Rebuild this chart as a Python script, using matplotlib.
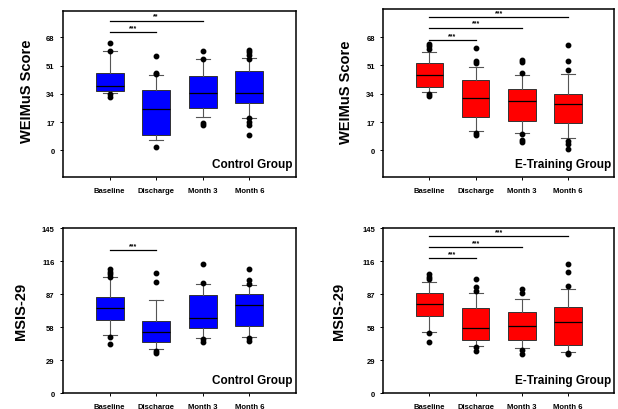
import matplotlib
matplotlib.use("Agg")
import matplotlib.pyplot as plt

plt.rcParams["font.family"] = ["Liberation Sans", "DejaVu Sans"]

labels = ["Baseline", "Discharge", "Month 3", "Month 6"]

# WEIMuS, control group
wc_med = [39, 24.7, 34.8, 34.8]
wc_q1 = [36, 9, 25.5, 28.4]
wc_q3 = [46.5, 36.4, 45, 47.7]
wc_lo = [34.4, 6, 20, 19.3]
wc_hi = [60, 45.5, 55.3, 55.7]
wc_fl = [[64.4, 60, 33.8, 32.4],
         [56.7, 46.7, 46, 2],
         [59.6, 55.3, 16.7, 15.3],
         [60.6, 59, 57.5, 55.3, 19.3, 16.9, 15.1, 9.5]]

# WEIMuS, e-training group
we_med = [45.3, 31.4, 29.8, 27.8]
we_q1 = [38, 20.3, 17.9, 16.3]
we_q3 = [52.5, 42.3, 37, 33.8]
we_lo = [35, 11.9, 10.7, 7.2]
we_hi = [58.8, 50.1, 45.3, 46]
we_fl = [[63.8, 62.4, 60.8, 34, 32.8],
         [61.2, 53.9, 52.5, 10.3, 8.9],
         [54.5, 53.3, 46.7, 9.5, 6.4, 4.8],
         [63.4, 53.5, 48.5, 5.6, 3.8, 1]]

# MSIS-29, control group
mc_med = [74.7, 53.9, 66, 77]
mc_q1 = [64.3, 45.3, 57.1, 59.1]
mc_q3 = [84.8, 63.7, 86.2, 87.3]
mc_lo = [51, 38.9, 48.1, 49.6]
mc_hi = [102, 81.9, 96.3, 95.4]
mc_fl = [[108.7, 106.7, 104.6, 102, 49.3, 43.5],
         [105.2, 98, 36.9, 34.9],
         [113.6, 97.1, 47.3, 45],
         [109, 99.5, 96.3, 48.1, 45.5]]

# MSIS-29, e-training group
me_med = [78.4, 57.4, 58.8, 62.6]
me_q1 = [67.7, 47, 46.7, 41.8]
me_q3 = [88.2, 75.2, 71.2, 75.5]
me_lo = [53.6, 41.5, 39.5, 36]
me_hi = [98, 88.2, 83, 91.7]
me_fl = [[104.6, 102.3, 100, 52.8, 44.7],
         [100.3, 93.1, 89.4, 40.1, 37.2],
         [91.7, 87.9, 38, 34],
         [113.3, 106.1, 94.3, 35.5, 34]]

# significance brackets: (end category index, y value, text)
wc_sig = [(2, 71, "***"), (3, 78, "**")]
we_sig = [(2, 66, "***"), (3, 73.5, "***"), (4, 80, "***")]
mc_sig = [(2, 126, "***")]
me_sig = [(2, 119, "***"), (3, 128.5, "***"), (4, 138, "***")]

wei_ticks = [0, 17, 34, 51, 68]
msis_ticks = [0, 29, 58, 87, 116, 145]

fig = plt.figure(figsize=(6.18, 4.10), dpi=100)

panels = [
    ([0.102, 0.566, 0.377, 0.405], wc_med, wc_q1, wc_q3, wc_lo, wc_hi, wc_fl, wc_sig,
     "#0000FF", "WEIMuS Score", "Control Group", (-16, 84), wei_ticks, -0.125, 0.52),
    ([0.620, 0.566, 0.374, 0.410], we_med, we_q1, we_q3, we_lo, we_hi, we_fl, we_sig,
     "#FF0000", "WEIMuS Score", "E-Training Group", (-16, 85), wei_ticks, -0.13, 0.51),
    ([0.102, 0.039, 0.377, 0.402], mc_med, mc_q1, mc_q3, mc_lo, mc_hi, mc_fl, mc_sig,
     "#0000FF", "MSIS-29", "Control Group", (0, 145), msis_ticks, -0.15, 0.5),
    ([0.620, 0.039, 0.374, 0.402], me_med, me_q1, me_q3, me_lo, me_hi, me_fl, me_sig,
     "#FF0000", "MSIS-29", "E-Training Group", (0, 145), msis_ticks, -0.16, 0.5),
]

for rect, med, q1, q3, lo, hi, fl, sig, color, ylab, group, ylim, yticks, labx, laby in panels:
    ax = fig.add_axes(rect)
    stats = []
    for i in range(4):
        stats.append({"med": med[i], "q1": q1[i], "q3": q3[i],
                      "whislo": lo[i], "whishi": hi[i], "fliers": fl[i]})
    ax.bxp(stats, positions=[1, 2, 3, 4], widths=0.6, patch_artist=True,
           boxprops=dict(facecolor=color, edgecolor="#333333", linewidth=0.7),
           medianprops=dict(color="black", linewidth=0.9),
           whiskerprops=dict(color="#555555", linewidth=0.8),
           capprops=dict(color="#555555", linewidth=0.8),
           flierprops=dict(marker="o", markerfacecolor="black",
                           markeredgecolor="black", markersize=3.2))
    for end, yv, txt in sig:
        ax.plot([1, end], [yv, yv], color="black", linewidth=0.9)
        ax.text((1 + end) / 2, yv + 0.8, txt, ha="center", va="bottom",
                fontsize=5, fontweight="bold")
    ax.set_xlim(0, 5)
    ax.set_ylim(*ylim)
    ax.set_yticks(yticks)
    ax.set_xticks([1, 2, 3, 4])
    ax.set_xticklabels(labels)
    ax.tick_params(labelsize=5.5, length=2.5, width=0.7)
    ax.tick_params(axis="x", pad=5)
    for t in ax.get_xticklabels() + ax.get_yticklabels():
        t.set_fontweight("bold")
    for s in ax.spines.values():
        s.set_linewidth(1.1)
    ax.set_ylabel(ylab, fontsize=10.5, fontweight="bold")
    ax.yaxis.set_label_coords(labx, laby)
    ax.text(0.985, 0.04, group, transform=ax.transAxes, ha="right", va="bottom",
            fontsize=8.5, fontweight="bold")

fig.savefig("out.png", dpi=100)
